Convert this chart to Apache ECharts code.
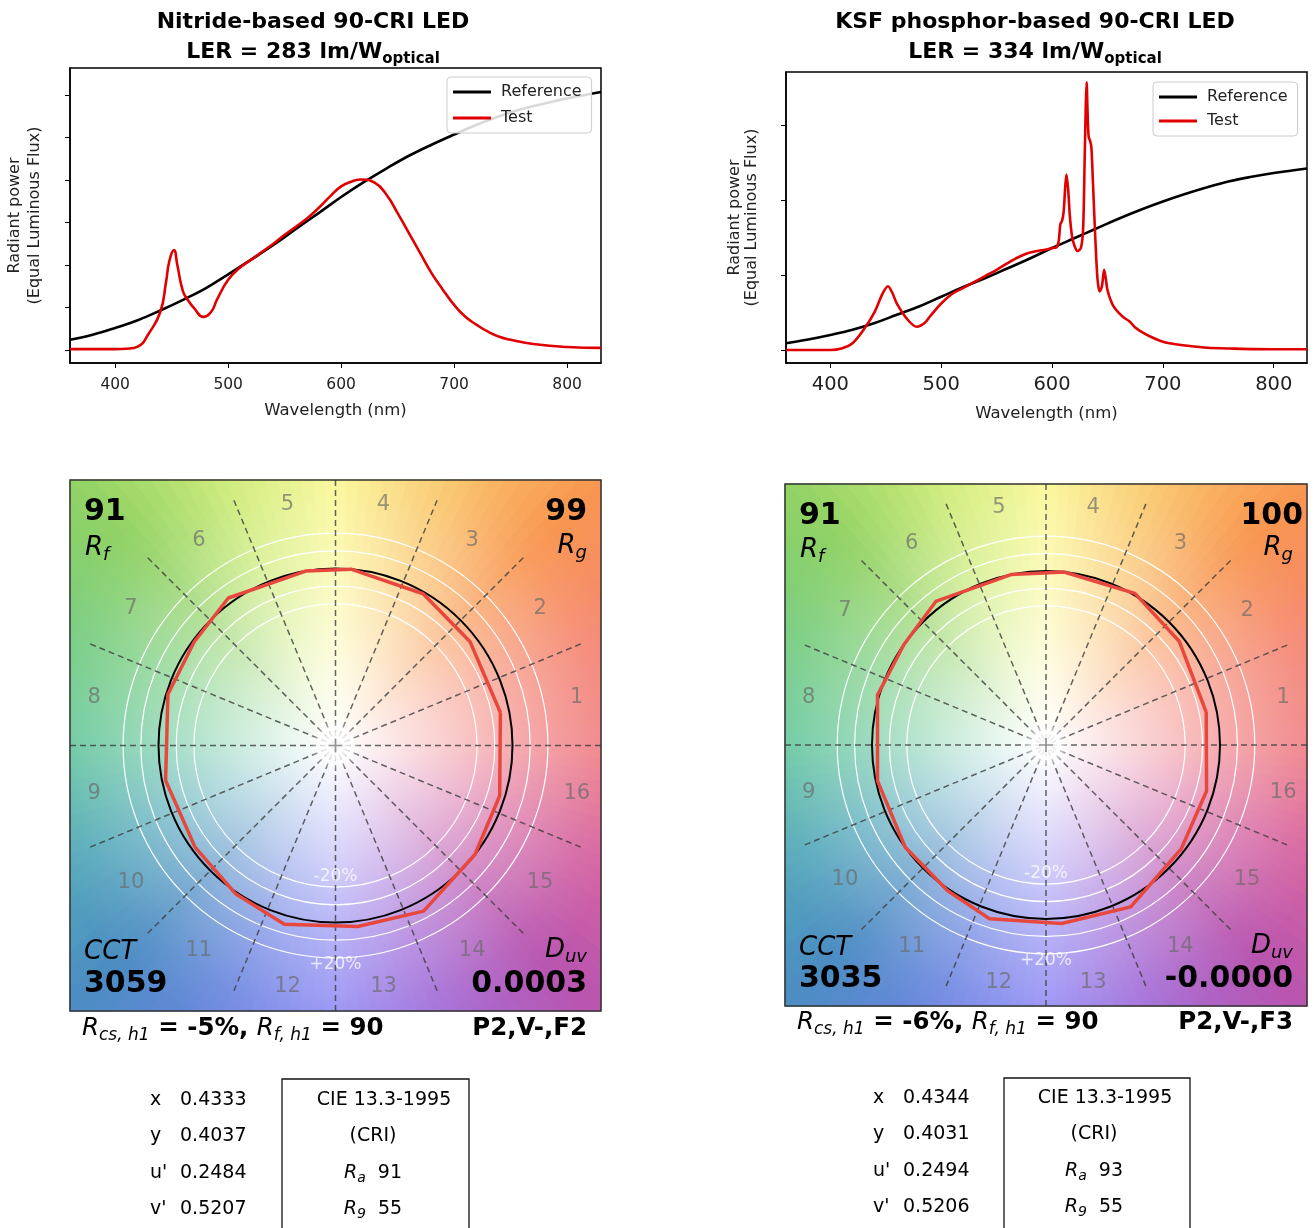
<!DOCTYPE html>
<html><head><meta charset="utf-8">
<script src="https://cdn.jsdelivr.net/npm/echarts@6/dist/echarts.min.js"></script>
<style>html,body{margin:0;padding:0;background:#fff}#c{width:1314px;height:1228px}</style>
</head><body><div id="c"></div><script>
// ================= DATA =================
const xTickNm = [400, 500, 600, 700, 800];
const nitrideYTicks = [0, 1, 2, 3, 4, 5, 6];
const ksfYTicks = [0, 1, 2, 3];

const nitrideRefNm    = [360,380,400,420,440,460,480,500,520,540,560,580,600,620,640,660,680,700,720,740,760,780,800,830];
const nitrideRefPower = [0.24,0.36,0.52,0.7,0.93,1.18,1.45,1.78,2.12,2.47,2.85,3.22,3.6,3.95,4.27,4.57,4.83,5.07,5.3,5.5,5.67,5.8,5.92,6.07];
const nitrideTestNm    = [360,380,400,410,420,430,440,445,448,452,455,460,465,470,478,485,490,500,510,520,530,540,550,560,570,580,590,600,610,618,630,640,650,660,670,680,690,700,710,720,730,740,750,770,800,830];
const nitrideTestPower = [0.02,0.02,0.02,0.03,0.08,0.4,0.9,1.6,2.1,2.35,2.0,1.38,1.15,0.98,0.78,0.9,1.18,1.65,1.93,2.12,2.31,2.5,2.71,2.9,3.1,3.34,3.61,3.85,3.97,4.01,3.93,3.66,3.22,2.75,2.28,1.81,1.42,1.06,0.78,0.59,0.43,0.31,0.24,0.14,0.07,0.05];

const ksfRefNm    = [360,380,400,420,440,460,480,500,520,540,560,580,600,620,640,660,680,700,720,740,760,780,800,830];
const ksfRefPower = [0.09,0.14,0.2,0.27,0.36,0.47,0.58,0.71,0.84,0.96,1.09,1.22,1.36,1.49,1.62,1.75,1.87,1.98,2.08,2.17,2.25,2.31,2.36,2.42];
const ksfTestNm    = [360,400,410,420,430,440,447,452,456,460,470,478,485,490,500,510,520,530,540,550,560,570,580,590,595,600,604,606,607.5,609,610.5,612,613,614.5,616,618,620,623,626,628,629.5,630.5,631.2,632,633,634.5,635.5,637,639,641,643,645,647,648.5,650,653,656,660,665,670,675,680,690,700,710,720,740,760,800,830];
const ksfTestPower = [0.0,0.0,0.02,0.09,0.27,0.51,0.75,0.85,0.76,0.62,0.4,0.31,0.36,0.45,0.62,0.75,0.83,0.91,0.99,1.07,1.16,1.24,1.3,1.33,1.34,1.36,1.37,1.45,1.68,1.72,1.85,2.2,2.34,2.15,1.8,1.52,1.4,1.32,1.36,1.6,2.6,3.3,3.57,3.2,2.85,2.78,2.7,2.2,1.5,0.95,0.78,0.85,1.07,0.95,0.8,0.66,0.57,0.5,0.43,0.38,0.3,0.25,0.17,0.11,0.08,0.06,0.03,0.02,0.01,0.01];

const binLabels = ['1','2','3','4','5','6','7','8','9','10','11','12','13','14','15','16'];
const nitrideVecRadius = [0.95,0.96,0.99,1.0,1.0,1.03,0.99,0.99,0.98,0.98,1.01,1.05,1.03,1.06,1.0,0.97];
const nitrideVecAngle  = [11.3,37.6,60,85,99.7,126,143.8,163,191.6,216,236,254,277,298,322,343];
const ksfVecRadius = [0.94,0.97,1.01,1.0,1.0,1.04,1.0,1.01,0.99,1.0,1.01,1.05,1.03,1.05,0.98,0.96];
const ksfVecAngle  = [11.6,37.8,59.6,84,101.6,127.5,144.8,163.5,192,216,236,252,275,297.6,322.5,344];
const pctLabels = ['-20%', '+20%'];

const nitrideCorner = ['91', '99', '3059', '0.0003'];     // Rf, Rg, CCT, Duv
const ksfCorner     = ['91', '100', '3035', '-0.0000'];
const nitrideHue1 = ['-5%', '90', 'P2,V-,F2'];            // Rcs,h1 ; Rf,h1 ; spec
const ksfHue1     = ['-6%', '90', 'P2,V-,F3'];
const chromLabels = ['x', 'y', "u'", "v'"];
const nitrideChrom = ['0.4333', '0.4037', '0.2484', '0.5207'];
const ksfChrom     = ['0.4344', '0.4031', '0.2494', '0.5206'];
const nitrideCRI = ['91', '55'];   // Ra, R9
const ksfCRI     = ['93', '55'];

// ================= STYLE / LAYOUT =================
const FD = "'DejaVu Sans', sans-serif";
const RED = '#e00000';
const VEC_RED = '#e8473e';
const zip = (a, b) => a.map((v, i) => [v, b[i]]);

const L = {cx: 335.5, cy: 745.5, h: 265.5};
const R = {cx: 1046, cy: 745, h: 261};

const HUE_ANCHORS = [
  [240,130,135],[245,135,115],[248,150,80],[250,200,110],
  [250,248,150],[205,235,120],[145,210,100],[120,205,130],
  [105,200,160],[85,170,185],[75,140,195],[110,135,225],
  [150,145,245],[165,110,215],[185,85,175],[215,100,160]
];
function hueColor(a) {
  const t = a / 22.5, i = Math.floor(t) % 16, j = (i + 1) % 16, f = t - Math.floor(t);
  const c = HUE_ANCHORS[i].map((v, k) => Math.round(v + (HUE_ANCHORS[j][k] - v) * f));
  return 'rgb(' + c.join(',') + ')';
}
function edgePt(p, a) {
  const r = a * Math.PI / 180, dx = Math.cos(r), dy = -Math.sin(r);
  const m = Math.max(Math.abs(dx), Math.abs(dy));
  return [p.cx + p.h * dx / m, p.cy + p.h * dy / m];
}
function background(p) {
  const els = [];
  const N = 144;
  for (let i = 0; i < N; i++) {
    const a0 = i * 360 / N, a1 = (i + 1) * 360 / N;
    const col = hueColor((a0 + a1) / 2);
    els.push({type: 'polygon', silent: true, z: -10,
      shape: {points: [[p.cx, p.cy], edgePt(p, a0), edgePt(p, a1)]},
      style: {fill: col, stroke: col, lineWidth: 1}});
  }
  const rr = p.h * 1.15;
  els.push({type: 'circle', silent: true, z: -9, shape: {cx: p.cx, cy: p.cy, r: rr},
    style: {fill: {type: 'radial', x: p.cx, y: p.cy, r: rr, global: true, colorStops: [
      {offset: 0, color: 'rgba(255,255,255,1)'},
      {offset: 0.08, color: 'rgba(255,255,255,0.93)'},
      {offset: 0.35, color: 'rgba(255,255,255,0.62)'},
      {offset: 0.6, color: 'rgba(255,255,255,0.33)'},
      {offset: 0.87, color: 'rgba(255,255,255,0.08)'},
      {offset: 1, color: 'rgba(255,255,255,0)'}]}}});
  // soft white glow over the hub where the dashed bin lines meet
  const rg = p.h * 0.1;
  els.push({type: 'circle', silent: true, z: 3, shape: {cx: p.cx, cy: p.cy, r: rg},
    style: {fill: {type: 'radial', x: p.cx, y: p.cy, r: rg, global: true, colorStops: [
      {offset: 0, color: 'rgba(255,255,255,1)'},
      {offset: 0.5, color: 'rgba(255,255,255,0.8)'},
      {offset: 1, color: 'rgba(255,255,255,0)'}]}}});
  els.push({type: 'rect', silent: true, z: 20,
    shape: {x: p.cx - p.h, y: p.cy - p.h, width: 2 * p.h, height: 2 * p.h},
    style: {fill: 'none', stroke: '#333', lineWidth: 1.5}});
  return els;
}
function T(x, y, text, o) {
  return {type: 'text', x, y, z: 30, silent: true,
    style: Object.assign({text, fill: '#000', fontFamily: FD, fontSize: 19, align: 'left', verticalAlign: 'middle'}, o || {})};
}
const richSub = (big, small) => ({
  r: {fontSize: big, fontStyle: 'italic', fontFamily: FD, lineHeight: big + 6, color: '#000'},
  s: {fontSize: small, fontStyle: 'italic', fontFamily: FD, lineHeight: Math.round(small * 0.7), verticalAlign: 'bottom', color: '#000'},
  b: {fontSize: big, fontWeight: 'bold', fontFamily: FD, lineHeight: big + 6, color: '#000'},
  n: {fontSize: big, fontFamily: FD, lineHeight: big + 6, color: '#000'}
});
function cvgTexts(pos, corner, hue1) {
  return [
    T(pos.lx, pos.t1, corner[0], {fontSize: 30, fontWeight: 'bold'}),
    T(pos.lx + 1, pos.t2, '{r|R}{s|f}', {rich: richSub(26, 18)}),
    T(pos.rxn, pos.t1, corner[1], {fontSize: 30, fontWeight: 'bold', align: 'right'}),
    T(pos.rx, pos.t2 - 2, '{r|R}{s|g}', {rich: richSub(26, 18), align: 'right'}),
    T(pos.lx, pos.b1, 'CCT', {fontSize: 26, fontStyle: 'italic'}),
    T(pos.lx, pos.b2, corner[2], {fontSize: 30, fontWeight: 'bold'}),
    T(pos.rx, pos.b1 - 2, '{r|D}{s|uv}', {rich: richSub(26, 18), align: 'right'}),
    T(pos.rx, pos.b2, corner[3], {fontSize: 30, fontWeight: 'bold', align: 'right'}),
    T(pos.lx - 2, pos.u, '{r|R}{s|cs, h1}{b| = ' + hue1[0] + ', }{r|R}{s|f, h1}{b| = ' + hue1[1] + '}', {rich: richSub(24.5, 17)}),
    T(pos.rx, pos.u, hue1[2], {fontSize: 24.5, fontWeight: 'bold', align: 'right'})
  ];
}
function table(pos, chrom, cri) {
  const els = [];
  chromLabels.forEach((l, i) => {
    els.push(T(pos.lx, pos.y0 + 36.3 * i, l, {fontSize: 19}));
    els.push(T(pos.vx, pos.y0 + 36.3 * i, chrom[i], {fontSize: 19}));
  });
  els.push({type: 'rect', silent: true, z: 30, shape: {x: pos.bx, y: pos.by, width: pos.bw, height: 200},
    style: {fill: 'none', stroke: '#111', lineWidth: 1.3}});
  els.push(T(pos.c1, pos.y0, 'CIE 13.3-1995', {fontSize: 19, align: 'center'}));
  els.push(T(pos.c2, pos.y0 + 36.3, '(CRI)', {fontSize: 19, align: 'center'}));
  els.push(T(pos.c2, pos.y0 + 72.6, '{r|R}{s|a}{n|  ' + cri[0] + '}', {rich: richSub(19, 14), align: 'center'}));
  els.push(T(pos.c2, pos.y0 + 108.9, '{r|R}{s|9}{n|  ' + cri[1] + '}', {rich: richSub(19, 14), align: 'center'}));
  return els;
}

const graphics = [].concat(
  background(L), background(R),
  cvgTexts({lx: 84, rx: 587, rxn: 587, t1: 512, t2: 548, b1: 952, b2: 984, u: 1029}, nitrideCorner, nitrideHue1),
  cvgTexts({lx: 799, rx: 1293, rxn: 1303, t1: 516, t2: 550, b1: 948, b2: 979, u: 1023}, ksfCorner, ksfHue1),
  table({lx: 150, vx: 180, y0: 1100, bx: 282, by: 1079, bw: 187, c1: 384, c2: 373}, nitrideChrom, nitrideCRI),
  table({lx: 873, vx: 903, y0: 1098, bx: 1004, by: 1078, bw: 186, c1: 1105, c2: 1094}, ksfChrom, ksfCRI)
);

// ================= AXES =================
function xAx(gi, fs, margin, nameGap) {
  return {gridIndex: gi, type: 'value', min: 360, max: 830,
    name: 'Wavelength (nm)', nameLocation: 'middle', nameGap: nameGap,
    nameTextStyle: {fontFamily: FD, fontSize: 16.5, color: '#222', lineHeight: 18},
    axisLine: {show: true, onZero: false, lineStyle: {color: '#000', width: 1.5}},
    axisTick: {show: true, length: 5, customValues: xTickNm, lineStyle: {color: '#000'}},
    axisLabel: {show: true, customValues: xTickNm, margin: margin, fontFamily: FD, fontSize: fs, color: '#222', lineHeight: fs + 2},
    splitLine: {show: false}};
}
function yAx(gi, min, max, ticks, nameGap, lh) {
  return {gridIndex: gi, type: 'value', min: min, max: max,
    name: 'Radiant power\n(Equal Luminous Flux)', nameLocation: 'middle', nameGap: nameGap,
    nameTextStyle: {fontFamily: FD, fontSize: 16, color: '#222', lineHeight: lh},
    axisLine: {show: true, onZero: false, lineStyle: {color: '#000', width: 1.5}},
    axisTick: {show: true, length: 5, customValues: ticks, lineStyle: {color: '#000'}},
    axisLabel: {show: false},
    splitLine: {show: false}};
}
const whiteRings = ['rgba(0,0,0,0)','rgba(0,0,0,0)','rgba(0,0,0,0)','rgba(0,0,0,0)','rgba(0,0,0,0)','rgba(0,0,0,0)','rgba(0,0,0,0)','rgba(0,0,0,0)',
  '#ffffff','#ffffff','rgba(0,0,0,0)','#ffffff','#ffffff','rgba(0,0,0,0)','rgba(0,0,0,0)','rgba(0,0,0,0)'];
function gridPolarAxes(pi) {
  return {
    angle: {polarIndex: pi, type: 'category', data: binLabels, startAngle: 0, clockwise: false, boundaryGap: true, z: 1,
      axisLine: {show: false}, axisTick: {show: false}, axisLabel: {show: false},
      splitLine: {show: true, lineStyle: {color: 'rgba(60,60,60,0.8)', width: 1.5, type: [6, 4]}}},
    radius: {polarIndex: pi, type: 'value', min: 0, max: 1.5, interval: 0.1, z: 1,
      axisLine: {show: false}, axisTick: {show: false}, axisLabel: {show: false},
      splitLine: {show: true, lineStyle: {color: whiteRings, width: 1.2}}}
  };
}
function dataPolarAxes(pi) {
  return {
    angle: {polarIndex: pi, type: 'value', min: 0, max: 360, startAngle: 0, clockwise: false, z: 2,
      axisLine: {show: false}, axisTick: {show: false}, axisLabel: {show: false}, splitLine: {show: false}},
    radius: {polarIndex: pi, type: 'value', min: 0, max: 1.5, interval: 0.5, z: 2,
      axisLine: {show: false}, axisTick: {show: false}, axisLabel: {show: false},
      splitLine: {show: true, lineStyle: {color: ['rgba(0,0,0,0)', 'rgba(0,0,0,0)', '#000', 'rgba(0,0,0,0)'], width: 2}}}
  };
}
const pa = [gridPolarAxes(0), dataPolarAxes(1), gridPolarAxes(2), dataPolarAxes(3)];

function polarSeries(gridPi, dataPi, rad, ang) {
  const pts = zip(rad, ang);
  pts.push(pts[0]);
  return [
    {type: 'scatter', coordinateSystem: 'polar', polarIndex: gridPi, silent: true, z: 5,
      symbolSize: 1, itemStyle: {color: 'rgba(0,0,0,0)'},
      data: binLabels.map((l, i) => [1.39, i]),
      label: {show: true, position: 'inside', formatter: p => binLabels[p.dataIndex],
        color: 'rgba(105,105,105,0.85)', fontSize: 21, fontFamily: FD}},
    {type: 'line', name: 'vectors', coordinateSystem: 'polar', polarIndex: dataPi, data: pts, symbol: 'none',
      silent: true, z: 12, lineStyle: {color: VEC_RED, width: 3.5}},
    {type: 'scatter', coordinateSystem: 'polar', polarIndex: dataPi, silent: true, z: 6,
      symbolSize: 1, itemStyle: {color: 'rgba(0,0,0,0)'},
      data: [[0.74, 270], [1.24, 270]],
      label: {show: true, position: 'inside', formatter: p => pctLabels[p.dataIndex],
        color: 'rgba(255,255,255,0.95)', fontSize: 17, fontFamily: FD}},
    {type: 'scatter', coordinateSystem: 'polar', polarIndex: dataPi, silent: true, z: 6,
      symbol: 'path://M4.4,0h1.2v4.4h4.4v1.2h-4.4v4.4h-1.2v-4.4h-4.4v-1.2h4.4z', symbolSize: 14, itemStyle: {color: '#777'},
      data: [[0, 0]]}
  ];
}

const legendBase = {orient: 'vertical', data: ['Reference', 'Test'], icon: 'rect', itemWidth: 38, itemHeight: 3,
  padding: [6, 10, 6, 6], itemGap: 8, borderColor: '#ccc', borderWidth: 1, borderRadius: 4,
  backgroundColor: 'rgba(255,255,255,0.85)', selectedMode: false,
  textStyle: {fontFamily: FD, fontSize: 16, color: '#222', lineHeight: 18, padding: [0, 0, 0, 5]}};

const titleRich = {a: {fontSize: 22, fontWeight: 'bold', fontFamily: FD, lineHeight: 30, color: '#000'},
  b: {fontSize: 15, fontWeight: 'bold', fontFamily: FD, lineHeight: 14, verticalAlign: 'bottom', color: '#000'}};

const option = {
  animation: false,
  backgroundColor: '#ffffff',
  title: [
    {left: 308, top: 2, textAlign: 'center', text: '{a|Nitride-based 90-CRI LED}\n{a|LER = 283 lm/W}{b|optical}',
      textStyle: {rich: titleRich}},
    {left: 1030, top: 2, textAlign: 'center', text: '{a|KSF phosphor-based 90-CRI LED}\n{a|LER = 334 lm/W}{b|optical}',
      textStyle: {rich: titleRich}}
  ],
  legend: [
    Object.assign({}, legendBase, {left: 447, top: 77}),
    Object.assign({}, legendBase, {left: 1153, top: 82, itemGap: 6})
  ],
  grid: [
    {left: 70, top: 68, width: 531, height: 295, show: true, borderColor: '#000', borderWidth: 1.5, backgroundColor: 'rgba(0,0,0,0)'},
    {left: 786, top: 72, width: 521, height: 291, show: true, borderColor: '#000', borderWidth: 1.5, backgroundColor: 'rgba(0,0,0,0)'}
  ],
  xAxis: [xAx(0, 15.5, 13, 39), xAx(1, 19.5, 11, 42)],
  yAxis: [yAx(0, -0.306, 6.635, nitrideYTicks, 25, 20), yAx(1, -0.173, 3.707, ksfYTicks, 26, 17)],
  polar: [
    {center: [L.cx, L.cy], radius: L.h}, {center: [L.cx, L.cy], radius: L.h},
    {center: [R.cx, R.cy], radius: R.h}, {center: [R.cx, R.cy], radius: R.h}
  ],
  angleAxis: pa.map(a => a.angle),
  radiusAxis: pa.map(a => a.radius),
  graphic: {elements: graphics},
  series: [
    {type: 'line', name: 'Reference', xAxisIndex: 0, yAxisIndex: 0, data: zip(nitrideRefNm, nitrideRefPower),
      symbol: 'none', smooth: 0.4, lineStyle: {color: '#000', width: 2.6}, itemStyle: {color: '#000'}, z: 3},
    {type: 'line', name: 'Test', xAxisIndex: 0, yAxisIndex: 0, data: zip(nitrideTestNm, nitrideTestPower),
      symbol: 'none', smooth: 0.5, lineStyle: {color: RED, width: 2.6}, itemStyle: {color: RED}, z: 4},
    {type: 'line', name: 'Reference', xAxisIndex: 1, yAxisIndex: 1, data: zip(ksfRefNm, ksfRefPower),
      symbol: 'none', smooth: 0.4, lineStyle: {color: '#000', width: 2.6}, itemStyle: {color: '#000'}, z: 3},
    {type: 'line', name: 'Test', xAxisIndex: 1, yAxisIndex: 1, data: zip(ksfTestNm, ksfTestPower),
      symbol: 'none', smooth: 0.3, lineStyle: {color: RED, width: 2.6}, itemStyle: {color: RED}, z: 4}
  ].concat(polarSeries(0, 1, nitrideVecRadius, nitrideVecAngle), polarSeries(2, 3, ksfVecRadius, ksfVecAngle))
};

const chart = echarts.init(document.getElementById('c'), null, {renderer: 'canvas', width: 1314, height: 1228});
chart.setOption(option);
</script></body></html>
